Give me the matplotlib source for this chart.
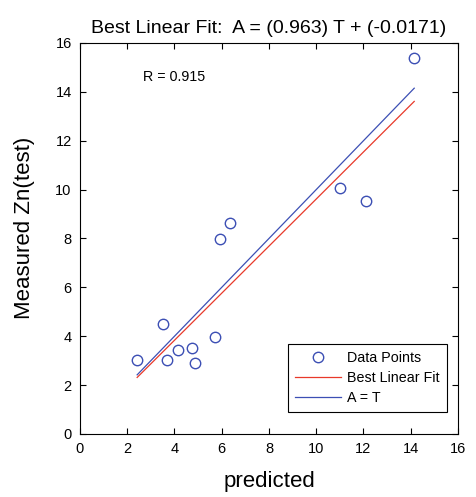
import matplotlib.pyplot as plt
import numpy as np

plt.rcParams['font.family'] = ['Liberation Sans', 'DejaVu Sans']

# data
predicted = [2.42, 3.52, 3.69, 4.15, 4.75, 4.87, 5.72, 5.93, 6.36, 11.02, 12.12, 14.15]
measured = [3.03, 4.51, 3.03, 3.44, 3.52, 2.91, 3.98, 7.99, 8.65, 10.08, 9.55, 15.37]
slope = 0.963
intercept = -0.0171
r_value = 0.915

fig = plt.figure(figsize=(4.77, 4.97), dpi=100)
ax = fig.add_axes([0.1677, 0.1268, 0.7923, 0.7867])

t = np.array([min(predicted), max(predicted)])

ax.plot(predicted, measured, 'o', mfc='none', mec='#3c4fb4', ms=7.5, mew=1.0,
        label='Data Points')
ax.plot(t, slope * t + intercept, color='#e8392a', lw=0.9, label='Best Linear Fit')
ax.plot(t, t, color='#3c4fb4', lw=0.9, label='A = T')

ax.set_xlim(0, 16)
ax.set_ylim(0, 16)
ax.set_xticks(np.arange(0, 17, 2))
ax.set_yticks(np.arange(0, 17, 2))
ax.tick_params(direction='in', top=True, right=True, labelsize=10.5, length=4, pad=6)

ax.text(2.67, 14.6, 'R = %.3f' % r_value, fontsize=10.3, va='center')

ax.set_xlabel('predicted', fontsize=16)
ax.set_ylabel('Measured Zn(test)', fontsize=16)
ax.xaxis.set_label_coords(0.5, -0.095)
ax.yaxis.set_label_coords(-0.12, 0.528)
ax.set_title('Best Linear Fit:  A = (%.3f) T + (%.4f)' % (slope, intercept),
             fontsize=14, pad=7)

leg = ax.legend(loc='lower right', bbox_to_anchor=(0.971, 0.056), fontsize=10.3,
                fancybox=False, edgecolor='black', framealpha=1, borderaxespad=0,
                handlelength=3.2, handletextpad=0.45, labelspacing=0.42,
                borderpad=0.5)
leg.get_frame().set_linewidth(0.8)

plt.savefig('out.png', dpi=100)
